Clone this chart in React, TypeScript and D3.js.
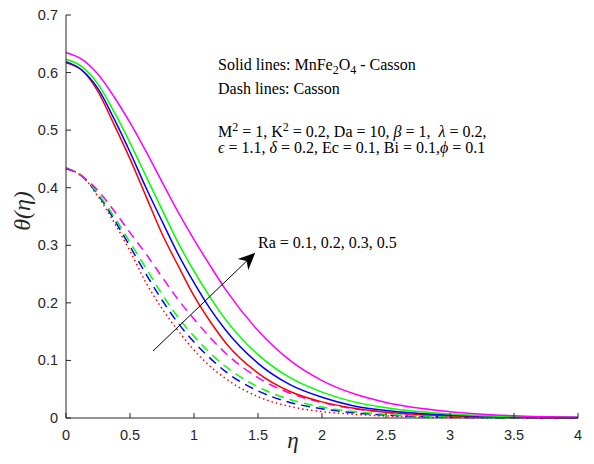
import React from "react";
import * as d3 from "d3";

const etaGrid = [0, 0.125, 0.25, 0.375, 0.5, 0.625, 0.75, 0.875, 1.0, 1.125, 1.25, 1.5, 1.75, 2.0, 2.25, 2.5, 3.0, 3.5, 4.0];

// Solid lines: MnFe2O4 - Casson (Ra = 0.1, 0.2, 0.3, 0.5)
const solidRa01 = [0.617, 0.604, 0.567, 0.51, 0.45, 0.385, 0.32, 0.265, 0.212, 0.168, 0.13, 0.078, 0.046, 0.028, 0.017, 0.01, 0.004, 0.0015, 0.0005];
const solidRa02 = [0.619, 0.604, 0.572, 0.52, 0.462, 0.4, 0.342, 0.285, 0.235, 0.19, 0.152, 0.095, 0.058, 0.036, 0.021, 0.013, 0.005, 0.002, 0.0008];
const solidRa03 = [0.623, 0.61, 0.58, 0.532, 0.478, 0.42, 0.362, 0.305, 0.255, 0.21, 0.17, 0.11, 0.07, 0.045, 0.028, 0.018, 0.007, 0.0025, 0.001];
const solidRa05 = [0.635, 0.623, 0.597, 0.558, 0.513, 0.463, 0.41, 0.358, 0.31, 0.265, 0.222, 0.152, 0.1, 0.065, 0.042, 0.027, 0.011, 0.004, 0.0015];

// Dash lines: Casson
const dashRa01 = [0.433, 0.42, 0.385, 0.34, 0.29, 0.235, 0.19, 0.152, 0.118, 0.09, 0.068, 0.037, 0.02, 0.011, 0.0065, 0.0035, 0.001, 0.0003, 0];
const dashRa02 = [0.433, 0.42, 0.388, 0.345, 0.298, 0.25, 0.205, 0.165, 0.132, 0.104, 0.08, 0.047, 0.027, 0.016, 0.009, 0.005, 0.0015, 0.0004, 0];
const dashRa03 = [0.434, 0.421, 0.39, 0.35, 0.305, 0.26, 0.215, 0.175, 0.142, 0.113, 0.089, 0.054, 0.032, 0.019, 0.011, 0.0065, 0.002, 0.0006, 0];
const dashRa05 = [0.435, 0.42, 0.395, 0.36, 0.322, 0.285, 0.245, 0.206, 0.172, 0.14, 0.112, 0.07, 0.043, 0.027, 0.016, 0.01, 0.0035, 0.001, 0];

const colors = ["#ff0000", "#0000ff", "#00ff00", "#ff00ff"];
const solidSeries = [solidRa01, solidRa02, solidRa03, solidRa05];
const dashSeries = [dashRa01, dashRa02, dashRa03, dashRa05];

const xTicks = [0, 0.5, 1, 1.5, 2, 2.5, 3, 3.5, 4];
const yTicks = [0, 0.1, 0.2, 0.3, 0.4, 0.5, 0.6, 0.7];

export default function App() {
  const W = 594, H = 464;
  const x = d3.scaleLinear().domain([0, 4]).range([66, 578]);
  const y = d3.scaleLinear().domain([0, 0.7]).range([418, 15]);
  const line = d3
    .line<number>()
    .x((_, i) => x(etaGrid[i]))
    .y((d) => y(d))
    .curve(d3.curveMonotoneX);

  const axisColor = "#262626";
  const tickFont = "Arial, 'Liberation Sans', Helvetica, sans-serif";
  const serif = "'Liberation Serif', 'Times New Roman', serif";

  return (
    <svg width={W} height={H} style={{ position: "absolute", left: 0, top: 0, background: "#fff" }}>
      <rect x={0} y={0} width={W} height={H} fill="#fff" />
      {/* curves */}
      {dashSeries.map((s, i) => (
        <path
          key={"d" + i}
          d={line(s) || ""}
          fill="none"
          stroke={colors[i]}
          strokeWidth={1.5}
          strokeDasharray={i === 0 ? "1.5,3" : "9,6"}
        />
      ))}
      {solidSeries.map((s, i) => (
        <path key={"s" + i} d={line(s) || ""} fill="none" stroke={colors[i]} strokeWidth={1.5} />
      ))}

      {/* axes */}
      <line x1={x(0)} x2={x(4)} y1={y(0)} y2={y(0)} stroke={axisColor} strokeWidth={1} />
      <line x1={x(0)} x2={x(0)} y1={y(0)} y2={y(0.7)} stroke={axisColor} strokeWidth={1} />
      {xTicks.map((t) => (
        <g key={"xt" + t}>
          <line x1={x(t)} x2={x(t)} y1={y(0)} y2={y(0) - 5} stroke={axisColor} />
          <text x={x(t)} y={y(0) + 22} textAnchor="middle" fontFamily={tickFont} fontSize={14.5} fill={axisColor}>
            {String(t)}
          </text>
        </g>
      ))}
      {yTicks.map((t) => (
        <g key={"yt" + t}>
          <line x1={x(0)} x2={x(0) + 5} y1={y(t)} y2={y(t)} stroke={axisColor} />
          <text x={x(0) - 8} y={y(t) + 5} textAnchor="end" fontFamily={tickFont} fontSize={14.5} fill={axisColor}>
            {t === 0 ? "0" : t.toFixed(1)}
          </text>
        </g>
      ))}

      {/* axis labels */}
      <text x={293} y={448} textAnchor="middle" fontFamily={serif} fontStyle="italic" fontSize={23} fill={axisColor}>
        η
      </text>
      <text
        transform={`translate(30,211) rotate(-90)`}
        textAnchor="middle"
        fontFamily={serif}
        fontStyle="italic"
        fontSize={24}
        fill={axisColor}
      >
        θ(η)
      </text>

      {/* annotations */}
      <g fontFamily={serif} fontSize={16} fill="#000">
        <text x={218} y={70}>
          Solid lines: MnFe<tspan dy={4} fontSize={12}>2</tspan>
          <tspan dy={-4}>O</tspan>
          <tspan dy={4} fontSize={12}>4</tspan>
          <tspan dy={-4}> - Casson</tspan>
        </text>
        <text x={218} y={94}>Dash lines: Casson</text>
        <text x={218} y={137}>
          M<tspan dy={-6} fontSize={12}>2</tspan>
          <tspan dy={6}> = 1, K</tspan>
          <tspan dy={-6} fontSize={12}>2</tspan>
          <tspan dy={6}> = 0.2, Da = 10, </tspan>
          <tspan fontStyle="italic">β</tspan>
          <tspan>{" = 1,\u00a0 "}</tspan>
          <tspan fontStyle="italic">λ</tspan>
          <tspan> = 0.2,</tspan>
        </text>
        <text x={218} y={153}>
          <tspan fontStyle="italic">ϵ</tspan>
          <tspan> = 1.1, </tspan>
          <tspan fontStyle="italic">δ</tspan>
          <tspan> = 0.2, Ec = 0.1, Bi = 0.1,</tspan>
          <tspan fontStyle="italic">ϕ</tspan>
          <tspan> = 0.1</tspan>
        </text>
        <text x={258} y={248}>Ra = 0.1, 0.2, 0.3, 0.5</text>
      </g>

      {/* arrow */}
      <defs>
        <marker id="ah" viewBox="0 0 10 10" refX={9} refY={5} markerWidth={17} markerHeight={17} markerUnits="userSpaceOnUse" orient="auto">
          <path d="M0,0.5 L10,5 L0,9.5 L3,5 Z" fill="#000" />
        </marker>
      </defs>
      <line x1={153} y1={351} x2={254} y2={254} stroke="#000" strokeWidth={1} markerEnd="url(#ah)" />
    </svg>
  );
}
